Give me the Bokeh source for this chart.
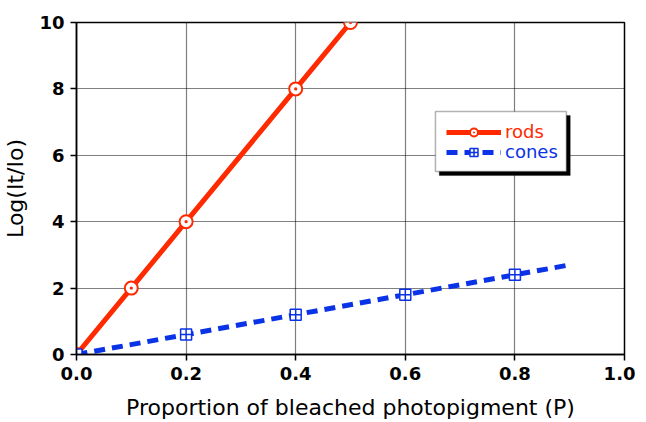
from bokeh.plotting import figure
from bokeh.models import Range1d, Legend, LegendItem, BoxAnnotation, FixedTicker
from bokeh.embed import file_html
from bokeh.resources import INLINE

# data
rods_x = [0.0, 0.1, 0.2, 0.4, 0.5]
rods_y = [0.0, 2.0, 4.0, 8.0, 10.0]
cones_line_x = [0.0, 0.9]
cones_line_y = [0.0, 2.7]
cones_x = [0.0, 0.2, 0.4, 0.6, 0.8]
cones_y = [0.0, 0.6, 1.2, 1.8, 2.4]
x_ticks = [0.0, 0.2, 0.4, 0.6, 0.8, 1.0]
y_ticks = [0, 2, 4, 6, 8, 10]

RED = "#ff2a00"
BLUE = "#0a32e6"
FONT = "DejaVu Sans"

p = figure(output_backend="svg", toolbar_location=None,
           x_range=Range1d(0, 1), y_range=Range1d(0, 10),
           frame_width=548, frame_height=332,
           min_border_left=74, min_border_top=22, min_border_right=11, min_border_bottom=60)
p.background_fill_color = "white"
p.border_fill_color = "white"
p.outline_line_color = "black"
p.outline_line_width = 1.5

for ax in (p.xaxis[0], p.yaxis[0]):
    ax.axis_line_color = "black"
    ax.axis_line_width = 1.5
    ax.major_tick_line_color = "black"
    ax.major_tick_line_width = 1.5
    ax.major_tick_in = 0
    ax.major_tick_out = 6
    ax.minor_tick_line_color = None
    ax.major_label_text_font = FONT
    ax.major_label_text_font_style = "bold"
    ax.major_label_text_font_size = "18px"
    ax.major_label_text_color = "black"
    ax.axis_label_text_font = FONT
    ax.axis_label_text_font_style = "normal"
    ax.axis_label_text_font_size = "22px"
    ax.axis_label_text_color = "black"

p.xaxis.ticker = FixedTicker(ticks=x_ticks)
p.yaxis.ticker = FixedTicker(ticks=y_ticks)
p.xaxis.major_label_overrides = {t: f"{t:.1f}" for t in x_ticks}
p.xaxis.axis_label = "Proportion of bleached photopigment (P)"
p.yaxis.axis_label = "Log(It/Io)"
p.xaxis.major_label_standoff = 6
p.yaxis.major_label_standoff = 6
p.xaxis.axis_label_standoff = 12
p.yaxis.axis_label_standoff = 8

for g in (p.xgrid[0], p.ygrid[0]):
    g.grid_line_color = "black"
    g.grid_line_dash = "1 1"
    g.grid_line_width = 1.2

rods_line = p.line(rods_x, rods_y, line_color=RED, line_width=5)
rods_pts = p.scatter(rods_x, rods_y, marker="circle_dot", size=13, fill_color="white",
                     line_color=RED, line_width=2)
cones_line = p.line(cones_line_x, cones_line_y, line_color=BLUE, line_width=5, line_dash="11 7")
cones_pts = p.scatter(cones_x, cones_y, marker="square_cross", size=11, fill_color="white",
                      line_color=BLUE, line_width=1.5)

# legend box with shadow
p.add_layout(BoxAnnotation(left=0.662, right=0.901, top=7.20, bottom=5.39,
                           fill_color="black", fill_alpha=1, line_color="black"))
p.add_layout(BoxAnnotation(left=0.655, right=0.894, top=7.32, bottom=5.51,
                           fill_color="white", fill_alpha=1, line_color="black", line_width=1.5))

def make_legend(item, loc, color):
    lg = Legend(items=[item], location=loc, orientation="vertical",
                background_fill_alpha=0, border_line_alpha=0, padding=0, margin=0,
                spacing=0, glyph_width=55, glyph_height=20, label_standoff=4,
                label_text_font=FONT, label_text_font_size="18px", label_text_color=color,
                label_height=20)
    p.add_layout(lg)

make_legend(LegendItem(label="rods", renderers=[rods_line, rods_pts]), (370, 212), RED)
make_legend(LegendItem(label="cones", renderers=[cones_line, cones_pts]), (370, 192), BLUE)

open("out.html", "w").write(file_html(p, INLINE))
